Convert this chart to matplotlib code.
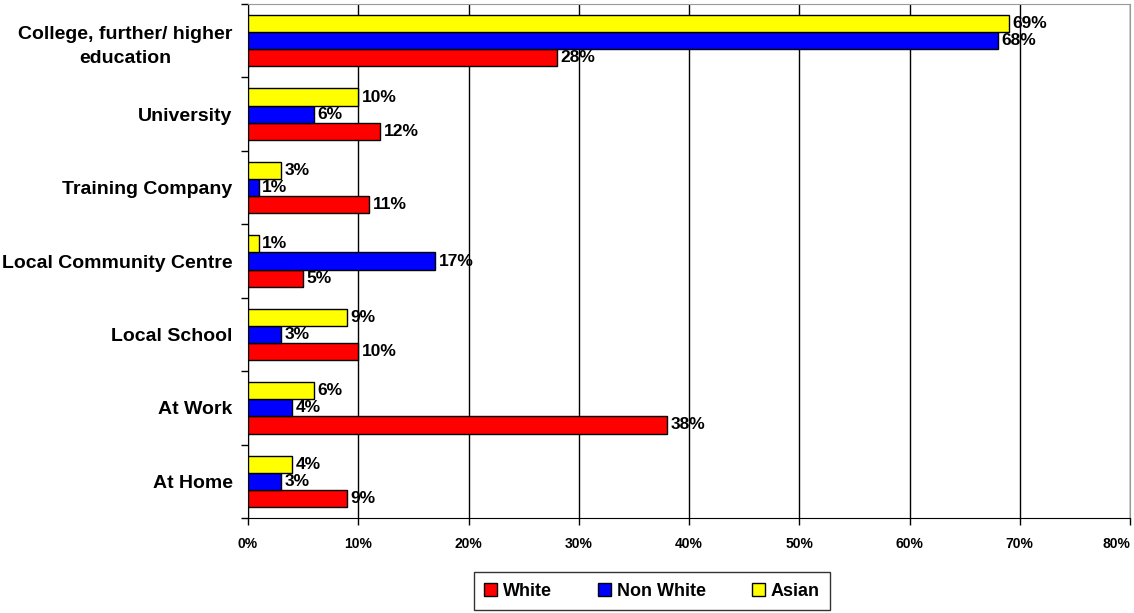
import numpy as np
import matplotlib.pyplot as plt

# data (percent)
categories = ["College, further/ higher\neducation", "University", "Training Company",
              "Local Community Centre", "Local School", "At Work", "At Home"]
white = [28, 12, 11, 5, 10, 38, 9]
non_white = [68, 6, 1, 17, 3, 4, 3]
asian = [69, 10, 3, 1, 9, 6, 4]
xticks = [0, 10, 20, 30, 40, 50, 60, 70, 80]

font = "Liberation Sans"
fig = plt.figure(figsize=(11.34, 6.13), dpi=100)
ax = fig.add_axes([248 / 1134, 1 - 518 / 613, 882 / 1134, 514 / 613])

n = len(categories)
# top category at the top
pos = np.arange(n)[::-1].astype(float)
h = 0.233

series = [(white, "#FF0000", "White", -h),
          (non_white, "#0000FF", "Non White", 0.0),
          (asian, "#FFFF00", "Asian", h)]
for vals, col, lab, off in series:
    bars = ax.barh(pos + off, vals, height=h, color=col, edgecolor="black",
                   linewidth=1.0, label=lab, zorder=3)
    for y, v in zip(pos + off, vals):
        ax.text(v + 0.3, y, "%d%%" % v, ha="left", va="center", fontsize=12.5,
                fontweight="bold", family=font, zorder=4)

ax.set_xlim(0, 80)
ax.set_ylim(-0.5, n - 0.5)
ax.set_xticks(xticks)
ax.set_xticklabels(["%d%%" % t for t in xticks], fontsize=10, fontweight="bold", family=font)
ax.get_xticklabels()[-1].set_ha("right")
ax.tick_params(axis="x", length=5, width=1, pad=9)
ax.xaxis.grid(True, color="black", linewidth=1, zorder=0)

# category labels, ticks at band boundaries
ax.set_yticks(pos)
ax.set_yticklabels(categories, fontsize=14, fontweight="bold", family=font,
                   ha="right", multialignment="center", linespacing=1.55)
ax.tick_params(axis="y", length=0, pad=11)
ax.set_yticks(np.arange(n + 1) - 0.5, minor=True)
ax.tick_params(axis="y", which="minor", length=5, width=1)

for s in ("top", "right"):
    ax.spines[s].set_color("#999999")
for s in ("left", "bottom"):
    ax.spines[s].set_color("black")

handles, labels = ax.get_legend_handles_labels()
leg = fig.legend(handles, labels, loc="center", bbox_to_anchor=(652 / 1134, 1 - 591 / 613),
                 ncol=3, frameon=True, fancybox=False, edgecolor="black",
                 prop={"family": font, "weight": "bold", "size": 13},
                 handlelength=0.7, handleheight=0.7, columnspacing=2.6, handletextpad=0.3,
                 borderpad=0.6)
leg.get_frame().set_linewidth(1)

fig.savefig("out.png", dpi=100)
